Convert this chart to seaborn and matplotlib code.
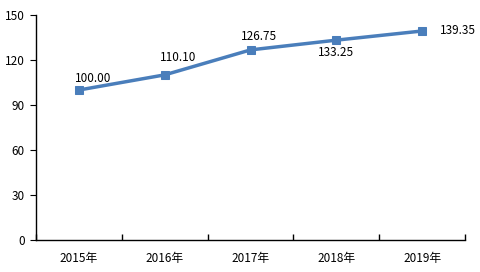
import matplotlib
matplotlib.use("Agg")
import matplotlib.pyplot as plt
import seaborn as sns
import pandas as pd

years = ["2015年", "2016年", "2017年", "2018年", "2019年"]
values = [100.00, 110.10, 126.75, 133.25, 139.35]
labels = ["100.00", "110.10", "126.75", "133.25", "139.35"]
yticks = [0, 30, 60, 90, 120, 150]

sns.set_style("white")
plt.rcParams['font.family'] = ['Noto Sans CJK SC', 'DejaVu Sans']

df = pd.DataFrame({"year": years, "value": values})
fig = plt.figure(figsize=(4.8, 2.72), dpi=100)
ax = fig.add_axes([0.075, 0.1176, 0.894, 0.8272])
color = "#4A7EBB"
sns.lineplot(data=df, x="year", y="value", ax=ax, color=color, linewidth=2.5,
             marker="s", markersize=6, markeredgecolor=color, sort=False)
ax.set_xlim(-0.5, 4.5)
ax.set_ylim(0, 150)
ax.set_yticks(yticks)
ax.set_yticklabels([str(t) for t in yticks])
ax.set_xlabel("")
ax.set_ylabel("")
for s in ["top", "right"]:
    ax.spines[s].set_visible(False)
for s in ["left", "bottom"]:
    ax.spines[s].set_color("black")
    ax.spines[s].set_linewidth(1.0)
ax.tick_params(axis="y", which="major", left=True, direction="out", length=4, labelsize=8.5, colors="black", pad=4)
ax.set_xticks(range(len(years)))
ax.set_xticklabels(years)
ax.tick_params(axis="x", which="major", bottom=False, labelsize=8.5, colors="black", pad=5)
ax.set_xticks([i + 0.5 for i in range(-1, len(years))], minor=True)
ax.tick_params(axis="x", which="minor", bottom=True, direction="in", length=4, width=1.0, color="black")

offsets = [(10, 8.6), (9.4, 12.2), (5.8, 10), (0, -8.6), (26, 0)]
for i, (v, lab, off) in enumerate(zip(values, labels, offsets)):
    ax.annotate(lab, xy=(i, v), xytext=off, textcoords="offset points",
                ha="center", va="center", fontsize=8.5, color="black")

fig.savefig("out.png", dpi=100)
